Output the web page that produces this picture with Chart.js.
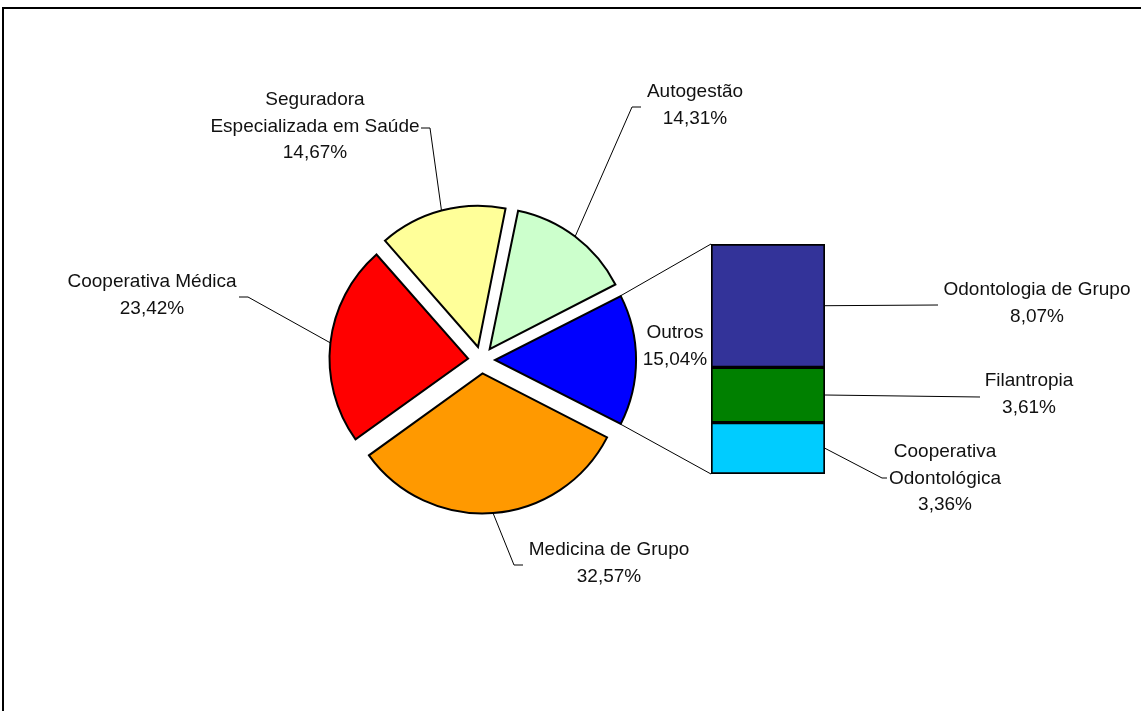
<!DOCTYPE html>
<html>
<head>
<meta charset="utf-8">
<script src="https://cdn.jsdelivr.net/npm/chart.js@4/dist/chart.umd.min.js"></script>
<style>
  html, body { margin: 0; padding: 0; background: #fff; overflow: hidden; }
  #wrap { position: relative; width: 1141px; height: 711px; overflow: hidden; }
  #frame { position: absolute; left: 2px; top: 7px; width: 1400px; height: 1000px; border: 2px solid #000; box-sizing: border-box; }
  canvas { position: absolute; left: 0; top: 0; }
</style>
</head>
<body>
<div id="wrap">
  <div id="frame"></div>
  <canvas id="pieChart" width="1141" height="711"></canvas>
  <canvas id="barChart" width="1141" height="711"></canvas>
</div>
<script>
// pie data (clockwise, starting with the exploded-out "Outros" slice on the right)
const pieLabels = ['Outros', 'Medicina de Grupo', 'Cooperativa Médica', 'Seguradora\nEspecializada em Saúde', 'Autogestão'];
const pieValues = [15.04, 32.57, 23.42, 14.67, 14.31];
const pieColors = ['#0000FF', '#FF9900', '#FF0000', '#FFFF99', '#CCFFCC'];

// "Outros" breakdown (bottom to top in the stacked bar)
const barLabels = ['Cooperativa\nOdontológica', 'Filantropia', 'Odontologia de Grupo'];
const barValues = [3.36, 3.61, 8.07];
const barColors = ['#00CCFF', '#008000', '#333399'];

const EXPLODE = 13.5; // px each slice is pulled out
const FONT = '19px "Liberation Sans", Arial, sans-serif';
const LINE_H = 26.5;

// where the text goes and how the leader line bends (x, y of first line centre)
const pieLabelPos = [
    { x: 675, y: 333 },
    { x: 609, y: 550, elbow: [514, 565], end: [523, 565] },
    { x: 152, y: 282, elbow: [248, 297], end: [239, 297] },
    { x: 315, y: 100, elbow: [430, 128], end: [421, 128] },
    { x: 695, y: 92, elbow: [632, 107], end: [641, 107] },
];
const barLabelPos = [
    { x: 945, y: 452, elbow: [882, 478], end: [887, 478] },
    { x: 1029, y: 381, elbow: [980, 397] },
    { x: 1037, y: 290, elbow: [938, 305] },
];

const pieTotal = pieValues.reduce((a, b) => a + b, 0);
const fmt = v => v.toFixed(2).replace('.', ',') + '%';

const drawText = (ctx, pos, name, value) => {
    const lines = name.split('\n').concat([fmt(value)]);
    ctx.font = FONT;
    ctx.fillStyle = '#111';
    ctx.textAlign = 'center';
    ctx.textBaseline = 'middle';
    lines.forEach((t, i) => ctx.fillText(t, pos.x, pos.y + i * LINE_H));
};

const drawLeader = (ctx, from, pos) => {
    if (!pos.elbow) return;
    ctx.beginPath();
    ctx.moveTo(from[0], from[1]);
    ctx.lineTo(pos.elbow[0], pos.elbow[1]);
    if (pos.end) ctx.lineTo(pos.end[0], pos.end[1]);
    ctx.stroke();
};

// the arc is translated by offset/4 and its radius grown by (offset/4)*fix in Chart.js v4
const arcShape = (el) => {
    const mid = (el.startAngle + el.endAngle) / 2;
    const fix = 1 - Math.sin(Math.min(Math.PI, el.circumference));
    return {
        cx: el.x + Math.cos(mid) * EXPLODE,
        cy: el.y + Math.sin(mid) * EXPLODE,
        r: el.outerRadius + EXPLODE * fix,
        mid: mid,
    };
};

const pieChart = new Chart(document.getElementById('pieChart'), {
    type: 'pie',
    data: {
        labels: pieLabels,
        datasets: [{
            data: pieValues,
            backgroundColor: pieColors,
            borderColor: '#000',
            borderWidth: 2,
            borderJoinStyle: 'miter',
            offset: EXPLODE * 4,
        }],
    },
    options: {
        responsive: false,
        animation: false,
        radius: 138.5,
        rotation: 90 - (pieValues[0] / pieTotal) * 180,
        layout: { padding: { left: 311.5, right: 489.5, top: 190, bottom: 181 } },
        plugins: { legend: { display: false }, tooltip: { enabled: false } },
    },
});

const labelsPlugin = {
    id: 'labelsAndConnectors',
    afterDraw(chart) {
        const ctx = chart.ctx;
        const arcs = pieChart.getDatasetMeta(0).data;
        ctx.save();
        ctx.strokeStyle = '#000';
        ctx.lineWidth = 1;

        // pie labels
        arcs.forEach((el, i) => {
            const s = arcShape(el);
            const edge = [s.cx + Math.cos(s.mid) * s.r, s.cy + Math.sin(s.mid) * s.r];
            drawLeader(ctx, edge, pieLabelPos[i]);
            drawText(ctx, pieLabelPos[i], pieLabels[i], pieValues[i]);
        });

        // bar labels
        barValues.forEach((v, i) => {
            const el = chart.getDatasetMeta(i).data[0];
            const from = [el.x + el.width / 2, (el.y + el.base) / 2];
            drawLeader(ctx, from, barLabelPos[i]);
            drawText(ctx, barLabelPos[i], barLabels[i], v);
        });

        // connectors from the "Outros" slice to the bar
        const o = arcShape(arcs[0]);
        const top = chart.getDatasetMeta(barValues.length - 1).data[0];
        const bottom = chart.getDatasetMeta(0).data[0];
        ctx.beginPath();
        ctx.moveTo(o.cx + Math.cos(arcs[0].startAngle) * o.r, o.cy + Math.sin(arcs[0].startAngle) * o.r);
        ctx.lineTo(top.x - top.width / 2, top.y);
        ctx.moveTo(o.cx + Math.cos(arcs[0].endAngle) * o.r, o.cy + Math.sin(arcs[0].endAngle) * o.r);
        ctx.lineTo(bottom.x - bottom.width / 2, bottom.base);
        ctx.stroke();
        ctx.restore();
    },
};

new Chart(document.getElementById('barChart'), {
    type: 'bar',
    data: {
        labels: ['Outros'],
        datasets: barValues.map((v, i) => ({
            label: barLabels[i],
            data: [v],
            backgroundColor: barColors[i],
            borderColor: '#000',
            borderWidth: 2,
            borderSkipped: false,
            barPercentage: 1,
            categoryPercentage: 1,
        })),
    },
    options: {
        responsive: false,
        animation: false,
        layout: { padding: { left: 711, right: 316, top: 244, bottom: 237 } },
        scales: {
            x: { stacked: true, display: false },
            y: { stacked: true, display: false, min: 0, max: barValues.reduce((a, b) => a + b, 0) },
        },
        plugins: { legend: { display: false }, tooltip: { enabled: false } },
    },
    plugins: [labelsPlugin],
});
</script>
</body>
</html>
